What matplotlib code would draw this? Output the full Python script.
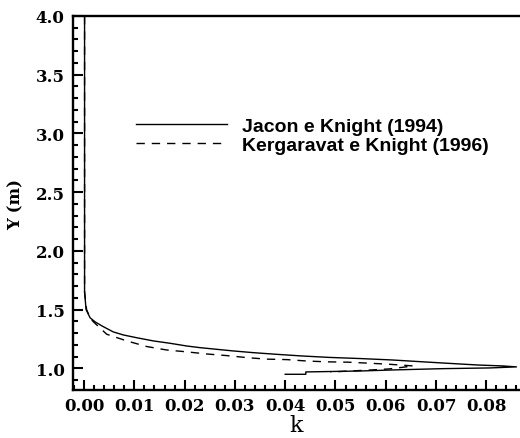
import matplotlib
matplotlib.use("Agg")
import matplotlib.pyplot as plt
from matplotlib.ticker import MultipleLocator

# values
jacon_k = [0.0001, 0.0001, 0.0004, 0.0012, 0.0022, 0.0038, 0.0058, 0.0078, 0.0105,
           0.0138, 0.0171, 0.0204, 0.0230, 0.0296, 0.0337, 0.0383, 0.0433, 0.0486,
           0.0549, 0.0612, 0.0678, 0.0734, 0.0783, 0.0833, 0.0860,
           0.0807, 0.0714, 0.0615, 0.0549, 0.0441, 0.0441, 0.0400]
jacon_y = [4.00, 1.65, 1.50, 1.43, 1.395, 1.355, 1.31, 1.284, 1.26,
           1.233, 1.213, 1.19, 1.176, 1.148, 1.133, 1.119, 1.105, 1.093,
           1.083, 1.071, 1.054, 1.040, 1.028, 1.020, 1.012,
           1.003, 0.997, 0.986, 0.977, 0.969, 0.949, 0.949]

kerg_k = [0.0001, 0.0001, 0.0005, 0.0013, 0.0020, 0.0045, 0.0085, 0.0125, 0.0164,
          0.0204, 0.0244, 0.0284, 0.0326, 0.0363, 0.0403, 0.0443, 0.0483, 0.0525,
          0.0569, 0.0608, 0.0655, 0.0608, 0.0572, 0.0520, 0.0490]
kerg_y = [4.00, 1.65, 1.50, 1.42, 1.39, 1.29, 1.233, 1.185, 1.156,
          1.140, 1.122, 1.108, 1.090, 1.078, 1.074, 1.062, 1.055, 1.052,
          1.043, 1.034, 1.020, 0.995, 0.986, 0.975, 0.968]

labels = ["Jacon e Knight (1994)", "Kergaravat e Knight (1996)"]

fig = plt.figure(figsize=(5.2, 4.39), dpi=100)
ax = fig.add_axes([0.1404, 0.1093, 0.8596, 0.852])

ax.plot(jacon_k, jacon_y, color="black", lw=1.0, label=labels[0])
ax.plot(kerg_k, kerg_y, color="black", lw=1.0, dashes=(6, 5), label=labels[1])

ax.set_xlim(-0.0022, 0.0867)
ax.set_ylim(0.815, 4.0)

ax.xaxis.set_major_locator(MultipleLocator(0.01))
ax.xaxis.set_minor_locator(MultipleLocator(0.002))
ax.yaxis.set_major_locator(MultipleLocator(0.5))
ax.yaxis.set_minor_locator(MultipleLocator(0.1))
ax.xaxis.set_major_formatter(plt.FormatStrFormatter("%.2f"))
ax.yaxis.set_major_formatter(plt.FormatStrFormatter("%.1f"))

ax.tick_params(which="both", direction="in", top=False, right=False, width=1.5)
ax.tick_params(which="major", length=7.5)
ax.tick_params(which="minor", length=3.5)
ax.tick_params(axis="x", pad=5)
ax.tick_params(axis="y", pad=6)

for lab in ax.get_xticklabels() + ax.get_yticklabels():
    lab.set_fontfamily("DejaVu Serif")
    lab.set_fontweight("bold")
    lab.set_fontsize(12)

for side in ["left", "bottom", "top"]:
    ax.spines[side].set_linewidth(1.7)
ax.spines["right"].set_visible(False)

ax.set_xlabel("k", fontfamily="DejaVu Serif", fontsize=16, labelpad=0)
ax.set_ylabel("Y (m)", fontfamily="DejaVu Serif", fontweight="bold", fontsize=12, labelpad=8)

leg = ax.legend(loc="center left", bbox_to_anchor=(0.141, 0.68), frameon=False,
                borderpad=0, borderaxespad=0, handlelength=4.7, handletextpad=0.77,
                labelspacing=0.1,
                prop={"family": ["Liberation Sans Narrow", "Liberation Sans"],
                      "weight": "bold", "size": 14})

fig.savefig("out.png", dpi=100)
